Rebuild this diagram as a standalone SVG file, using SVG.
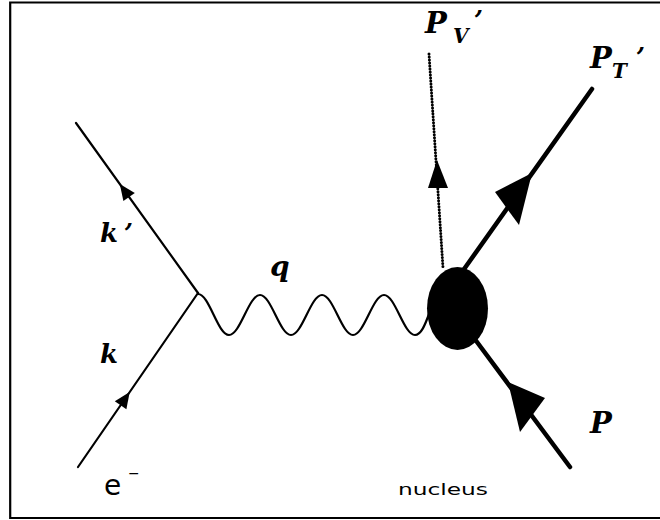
<svg xmlns="http://www.w3.org/2000/svg" width="660" height="520" viewBox="0 0 660 520">
<style>
.frame{stroke:#000;stroke-width:2.2;fill:none}
.lep{stroke:#000;stroke-width:2.2;fill:none;stroke-linecap:round}
.had{stroke:#000;stroke-width:4.5;fill:none;stroke-linecap:round}
.dot{stroke:#000;stroke-width:3;fill:none;stroke-linecap:round;stroke-dasharray:0 3}
.wave{stroke:#000;stroke-width:2.2;fill:none}
.ah{fill:#000;stroke:none}
.math{font-family:"DejaVu Serif","Liberation Serif",serif;font-weight:bold;font-style:italic;fill:#000}
.sans{font-family:"DejaVu Sans","Liberation Sans",sans-serif;fill:#000}
</style>
<rect width="660" height="520" fill="#fff"/>
<path class="frame" d="M660,2.5 H10.2 V518 H660"/>
<g id="connectors">
  <line class="lep" x1="76" y1="123" x2="198" y2="293"/>
  <line class="lep" x1="78" y1="467" x2="198" y2="293"/>
  <polygon class="ah" points="119.8,184 134.8,192.9 123.4,201.1"/>
  <polygon class="ah" points="129.7,392 126.4,409.2 114.8,401.2"/>
  <path class="wave" d="M198,294 C209.3,294 217.7,335 229,335 C240.3,335 248.7,295 260,295 C271.3,295 279.7,335 291,335 C302.3,335 310.7,295 322,295 C333.3,295 341.7,335 353,335 C364.3,335 372.7,295 384,295 C395.3,295 403.7,335 415,335 C421,335 425,325 429,314"/>
  <line class="dot" x1="429" y1="54" x2="443" y2="268"/>
  <polygon class="ah" points="437,160 428,188 448,188"/>
  <line class="had" x1="462" y1="272" x2="592" y2="89"/>
  <polygon class="ah" points="532,173 495,192 519,225"/>
  <line class="had" x1="474" y1="338" x2="570" y2="467"/>
  <polygon class="ah" points="508,382 545,398 520,432"/>
</g>
<g id="nucleus-blob">
  <ellipse cx="457.5" cy="308.5" rx="30.5" ry="41.5" fill="#000"/>
</g>
<g id="label-kprime">
  <text class="math" x="100" y="242" font-size="26">k<tspan x="124" y="242">’</tspan></text>
</g>
<g id="label-k">
  <text class="math" x="100" y="363" font-size="26">k</text>
</g>
<g id="label-electron">
  <text class="sans" x="104" y="495" font-size="28">e<tspan x="128" y="478" font-size="14">−</tspan></text>
</g>
<g id="label-q">
  <text class="math" x="270" y="276" font-size="28">q</text>
</g>
<g id="label-PV">
  <text class="math" x="425" y="33" font-size="29">P<tspan x="453" y="43" font-size="20">V</tspan><tspan x="474" y="29" font-size="26">’</tspan></text>
</g>
<g id="label-PT">
  <text class="math" x="590" y="68" font-size="29">P<tspan x="612" y="78" font-size="20">T</tspan><tspan x="636" y="66" font-size="26">’</tspan></text>
</g>
<g id="label-P">
  <text class="math" x="590" y="433" font-size="29">P</text>
</g>
<g id="label-nucleus">
  <text class="sans" x="398" y="495" font-size="16" textLength="90" lengthAdjust="spacingAndGlyphs">nucleus</text>
</g>
</svg>
